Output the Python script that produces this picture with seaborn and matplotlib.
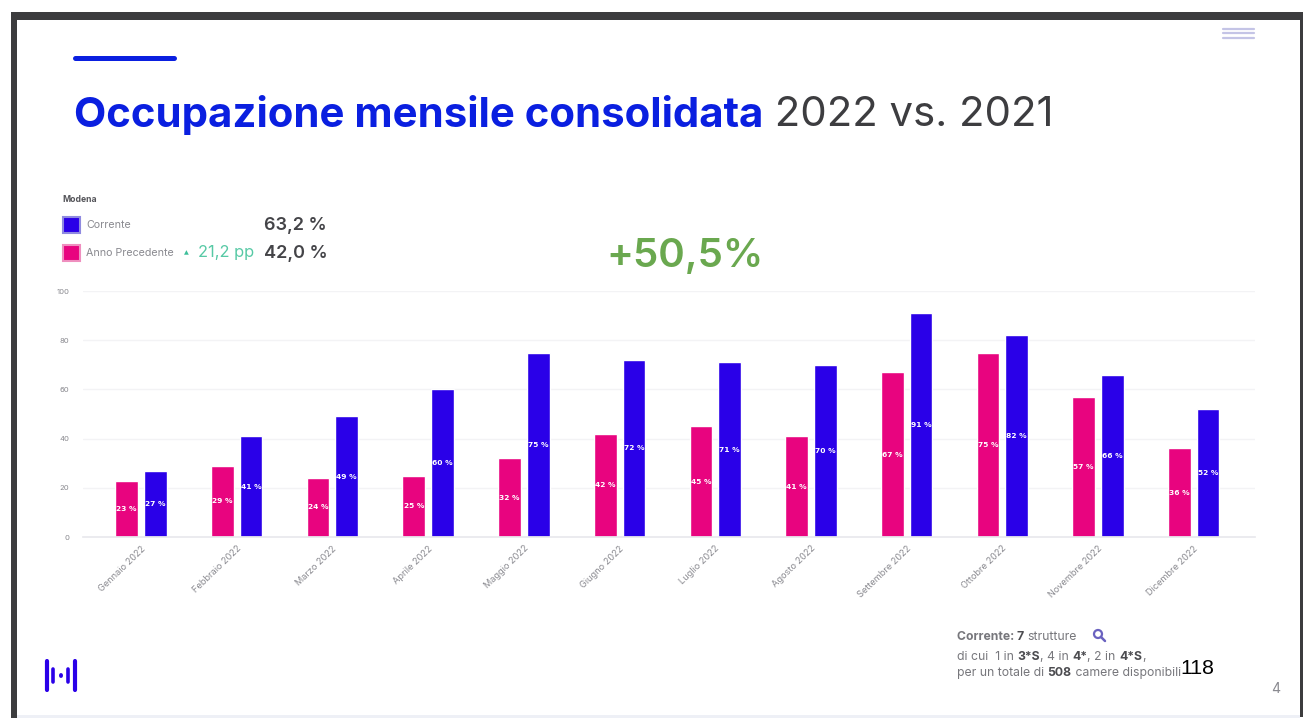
import matplotlib
matplotlib.use("Agg")
import matplotlib.pyplot as plt
from matplotlib.patches import Rectangle, Circle
import pandas as pd
import seaborn as sns

sns.set_theme(style="white")
plt.rcParams['font.family'] = ['Inter', 'DejaVu Sans']

months = ['Gennaio 2022', 'Febbraio 2022', 'Marzo 2022', 'Aprile 2022', 'Maggio 2022', 'Giugno 2022',
          'Luglio 2022', 'Agosto 2022', 'Settembre 2022', 'Ottobre 2022', 'Novembre 2022', 'Dicembre 2022']
anno_precedente = [22.6, 29, 24, 25, 32, 42, 45, 41, 67, 75, 57, 36]
corrente = [27, 41, 49, 60, 75, 72, 71, 70, 91, 82, 66, 52]
y_ticks = [0, 20, 40, 60, 80, 100]

BLUE = '#2a00e8'
TITLE_BLUE = '#0a1fe0'
PINK = '#e8047f'
GREY = '#8a8a90'
W, H = 1306, 718

df = pd.DataFrame({'Mese': months, 'Anno Precedente': anno_precedente, 'Corrente': corrente})
long_df = df.melt(id_vars='Mese', var_name='Serie', value_name='Occupazione')

fig = plt.figure(figsize=(W / 100, H / 100), dpi=100, facecolor='white')

# overlay in pixel coordinates for the slide furniture
deco = fig.add_axes([0, 0, 1, 1])
deco.set_xlim(0, W)
deco.set_ylim(H, 0)
deco.axis('off')

# chart
ax = fig.add_axes([83 / W, 1 - 537 / H, (1255 - 83) / W, (537 - 291) / H])
ax.patch.set_alpha(0)
sns.barplot(data=long_df, x='Mese', y='Occupazione', hue='Serie', order=months,
            hue_order=['Anno Precedente', 'Corrente'], palette=[PINK, BLUE],
            width=0.6, gap=0.21, legend=False, ax=ax, saturation=1)
ax.set_xlim(-0.606, 11.64)
ax.set_ylim(0, 100)
ax.set_yticks(y_ticks)
ax.set_xlabel('')
ax.set_ylabel('')
ax.grid(axis='y', color='#f3f3f5', lw=1)
ax.set_axisbelow(True)
sns.despine(ax=ax, left=True, top=True, right=True)
ax.spines['bottom'].set_color('#e9e9ed')
ax.tick_params(axis='y', length=0, labelsize=5.5, labelcolor=GREY, pad=10)
ax.tick_params(axis='x', length=0, pad=5)
plt.setp(ax.get_xticklabels(), rotation=44, ha='right', rotation_mode='anchor', fontsize=6.6, color=GREY)
for bars in ax.containers:
    ax.bar_label(bars, labels=[f'{round(b.get_height())} %' for b in bars], label_type='center',
                 color='white', fontsize=5.4, fontweight='bold', family='DejaVu Sans')


def runs(x, y, parts, size, va='center'):
    # text pieces side by side, each with its own weight and colour
    r = fig.canvas.get_renderer()
    for s, weight, color in parts:
        t = deco.text(x, y, s, fontsize=size, fontweight=weight, color=color, va=va, ha='left')
        x += t.get_window_extent(r).width


# frame of the slide
for box in [(11, 12, 6, 706), (11, 12, 1292, 8), (1300, 12, 3, 705)]:
    deco.add_patch(Rectangle(box[:2], box[2], box[3], color='#3c3c3e', lw=0))
deco.add_patch(Rectangle((17, 715), 1283, 3, color='#eef0f6', lw=0))

# header
deco.plot([75, 174], [58, 58], color=TITLE_BLUE, lw=3.6, solid_capstyle='round')
for yy in (28.5, 33, 37.5):
    deco.plot([1223, 1254], [yy, yy], color='#c4c4e6', lw=1.6)
runs(74, 115, [('Occupazione mensile consolidata', 'bold', TITLE_BLUE), (' 2022 vs. 2021', 'normal', '#3d3d40')], 30.2)

# legend block
deco.text(62, 200, 'Modena', fontsize=6.2, fontweight='bold', color='#55555a', va='center')
deco.add_patch(Rectangle((63, 217), 17, 16, fc=BLUE, ec='#8f8ae0', lw=1.5))
deco.add_patch(Rectangle((63, 245), 17, 16, fc=PINK, ec='#ef8fbf', lw=1.5))
deco.text(86, 225, 'Corrente', fontsize=7.7, color=GREY, va='center')
deco.text(86, 253, 'Anno Precedente', fontsize=7.7, color=GREY, va='center')
deco.text(184, 253, '▲', fontsize=4.5, color='#3dbf9a', va='center', family='DejaVu Sans')
deco.text(198, 253, '21,2 pp', fontsize=11.8, color='#57c9a5', va='center')
deco.text(264, 226, '63,2 %', fontsize=13, fontweight='semibold', color='#444448', va='center')
deco.text(264, 254, '42,0 %', fontsize=13, fontweight='semibold', color='#444448', va='center')
deco.text(606, 256, '+50,5%', fontsize=29, fontweight='semibold', color='#6aa84f', va='center')

# logo
for xx, y0, y1, lw in [(47, 661, 690, 3), (53, 669, 682, 2.6), (61, 675, 676, 2.8), (68, 669, 682, 2.6), (75, 661, 690, 3)]:
    deco.plot([xx, xx], [y0, y1], color=BLUE, lw=lw, solid_capstyle='round')

# footer note
NOTE = '#77777c'
runs(957, 637, [('Corrente: ', 'bold', NOTE), ('7 ', 'bold', '#4c4c50'), ('strutture', 'normal', NOTE)], 8.8)
deco.add_patch(Circle((1098, 634), 4, fc='none', ec='#6a62c0', lw=1.6))
deco.plot([1101, 1105], [637, 641], color='#6a62c0', lw=1.8)
runs(957, 657, [('di cui  1 in ', 'normal', NOTE), ('3*S', 'bold', '#4c4c50'), (', 4 in ', 'normal', NOTE),
                ('4*', 'bold', '#4c4c50'), (', 2 in ', 'normal', NOTE), ('4*S', 'bold', '#4c4c50'), (',', 'normal', NOTE)], 8.8)
runs(957, 673, [('per un totale di ', 'normal', NOTE), ('508', 'bold', '#4c4c50'), (' camere disponibili', 'normal', NOTE)], 8.8)
deco.text(1180, 669, '118', fontsize=15.4, color='black', va='center', family='Liberation Sans')
deco.text(1276, 689, '4', fontsize=10, color=GREY, va='center', ha='center')

fig.savefig('out.png', dpi=100)
